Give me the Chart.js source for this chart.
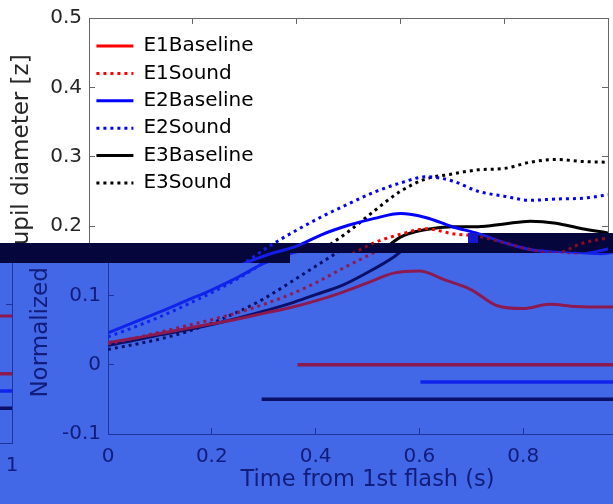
<!DOCTYPE html>
<html>
<head>
<meta charset="utf-8">
<script src="https://cdn.jsdelivr.net/npm/chart.js@4"></script>
<style>
  body { margin: 0; background: #fff; }
  #wrap { width: 613px; height: 504px; overflow: hidden; position: relative; }
  #pupil { display: block; }
</style>
</head>
<body>
<div id="wrap"><canvas id="pupil" width="640" height="504"></canvas></div>
<script>
// time after first flash (s)
let timeS = [0, 0.05, 0.1, 0.15, 0.2, 0.25, 0.3, 0.35, 0.4, 0.45, 0.5,
             0.55, 0.6, 0.65, 0.7, 0.75, 0.8, 0.85, 0.9, 0.95, 1];

// normalized pupil diameter [z] per condition
let e1Baseline = [0.032, 0.038, 0.045, 0.052, 0.059, 0.066, 0.074, 0.082, 0.092, 0.104, 0.118,
                  0.132, 0.135, 0.122, 0.108, 0.085, 0.081, 0.087, 0.084, 0.083, 0.083];
let e1Sound    = [0.030, 0.038, 0.047, 0.056, 0.065, 0.075, 0.087, 0.101, 0.118, 0.138, 0.157,
                  0.176, 0.188, 0.196, 0.189, 0.185, 0.176, 0.166, 0.161, 0.175, 0.183];
let e2Baseline = [0.046, 0.061, 0.076, 0.092, 0.108, 0.126, 0.146, 0.160, 0.171, 0.188, 0.201,
                  0.211, 0.218, 0.212, 0.199, 0.189, 0.176, 0.166, 0.162, 0.160, 0.167];
let e2Sound    = [0.040, 0.054, 0.069, 0.086, 0.104, 0.124, 0.147, 0.172, 0.194, 0.214, 0.232,
                  0.249, 0.262, 0.271, 0.265, 0.250, 0.243, 0.237, 0.239, 0.240, 0.245];
let e3Baseline = [0.028, 0.035, 0.043, 0.050, 0.058, 0.067, 0.077, 0.088, 0.101, 0.114, 0.133,
                  0.155, 0.184, 0.195, 0.199, 0.199, 0.203, 0.207, 0.204, 0.196, 0.190];
let e3Sound    = [0.022, 0.029, 0.037, 0.047, 0.060, 0.076, 0.095, 0.118, 0.142, 0.166, 0.192,
                  0.222, 0.250, 0.268, 0.275, 0.281, 0.283, 0.292, 0.296, 0.293, 0.292];

let seriesNames = ['E1Baseline', 'E1Sound', 'E2Baseline', 'E2Sound', 'E3Baseline', 'E3Sound'];
let seriesValues = [e1Baseline, e1Sound, e2Baseline, e2Sound, e3Baseline, e3Sound];

// significance bars (E1, E2, E3): onset time and the level they sit at
let sigStart = [0.365, 0.602, 0.296];
let sigLevel = [0, -0.025, -0.05];

let yRange = [-0.1, 0.5];
let xRange = [0, 1];

const lineColors = ['#ff0000', '#ff0000', '#0000ff', '#0000ff', '#000000', '#000000'];
const barColors = ['#ff0000', '#0000ff', '#000000'];
const font = 'DejaVu Sans';
const textColor = '#262626';
const axisColor = '#666';

const fmt = (v) => String(Math.round(v * 10) / 10);

let datasets = seriesValues.map((vals, i) => ({
  label: seriesNames[i],
  data: timeS.map((t, k) => ({ x: t, y: vals[k] })),
  borderColor: lineColors[i],
  backgroundColor: lineColors[i],
  borderWidth: 3,
  borderDash: i % 2 ? [3, 4] : [],
  pointRadius: 0,
  cubicInterpolationMode: 'monotone',
}));

sigStart.forEach((t0, i) => {
  datasets.push({
    label: 'sig' + (i + 1),
    data: [{ x: t0, y: sigLevel[i] }, { x: xRange[1], y: sigLevel[i] }],
    borderColor: barColors[i],
    borderWidth: 3.5,
    pointRadius: 0,
  });
});

// colour maps for the scrambled lower part of the figure
const tintLower = { base: [10, 15, 105], r: [130, 10, -25], g: [-79, 59, 22], b: [5, 20, 130] };
const tintBand = { base: [4, 6, 60], r: [136, 4, -30], g: [-152, -28, -140], b: [16, 24, 170] };

const regionAt = (x, y) => {
  if (x >= 468 && x < 478 && y >= 233 && y < 243) return 'block';
  let top = x >= 478 ? 233 : 243;
  let bottom = x < 290 ? 263 : 253;
  if (y < top) return 'upper';
  if (y < bottom) return 'band';
  return 'lower';
};

const scramble = {
  id: 'scramble',
  afterDraw(chart) {
    let ctx = chart.ctx;
    let w = chart.canvas.width, h = chart.canvas.height;
    let src = ctx.getImageData(0, 0, w, h).data;
    let out = ctx.createImageData(w, h);
    let d = out.data;
    let px = (sx, sy) => {
      if (sx < 0 || sy < 0 || sx >= w || sy >= h) return [255, 255, 255];
      let i = (sy * w + sx) * 4;
      let a = src[i + 3] / 255;
      return [src[i] * a + 255 * (1 - a), src[i + 1] * a + 255 * (1 - a), src[i + 2] * a + 255 * (1 - a)];
    };
    let tint = (t, c) => t.base.map((b0, k) =>
      Math.max(0, Math.min(255, b0 + (c[0] * t.r[k] + c[1] * t.g[k] + c[2] * t.b[k]) / 255)));
    for (let y = 0; y < h; y++) {
      for (let x = 0; x < w; x++) {
        let reg = regionAt(x, y);
        let c;
        if (reg === 'upper') c = px(x, y);
        else if (reg === 'band') c = tint(tintBand, px(x, y));
        else if (reg === 'block') c = [20, 25, 205];
        else c = tint(tintLower, x >= 19 ? px(x - 19, y) : px(x + 596, y - 9));
        let i = (y * w + x) * 4;
        d[i] = c[0]; d[i + 1] = c[1]; d[i + 2] = c[2]; d[i + 3] = 255;
      }
    }
    ctx.putImageData(out, 0, 0);
  },
};

const gridInward = { drawOnChartArea: false, tickLength: -6, color: axisColor };

// legend samples keep the dataset's dash pattern
const legendLabels = (chart) =>
  Chart.defaults.plugins.legend.labels.generateLabels(chart).map((item) => {
    let ds = chart.data.datasets[item.datasetIndex];
    item.lineDash = ds.borderDash || [];
    item.lineWidth = ds.borderWidth;
    item.strokeStyle = ds.borderColor;
    return item;
  });

new Chart(document.getElementById('pupil'), {
  type: 'line',
  data: { datasets: datasets },
  options: {
    responsive: false,
    animation: false,
    devicePixelRatio: 1,
    events: [],
    layout: { padding: 0 },
    plugins: {
      tooltip: { enabled: false },
      legend: {
        position: 'chartArea',
        align: 'start',
        title: { display: true, text: ' ', font: { size: 1 }, padding: { top: 0, bottom: 27.4 } },
        labels: {
          usePointStyle: true,
          pointStyle: 'line',
          pointStyleWidth: 37,
          padding: 7.4,
          color: '#000',
          font: { family: font, size: 20 },
          generateLabels: legendLabels,
          filter: (item) => item.datasetIndex < seriesNames.length,
        },
      },
    },
    scales: {
      x: {
        type: 'linear', position: 'bottom', min: xRange[0], max: xRange[1],
        ticks: { stepSize: 0.2, padding: 17, color: textColor, font: { family: font, size: 20 }, callback: fmt },
        grid: gridInward,
        border: { color: axisColor },
        title: { display: true, text: 'Time from 1st flash (s)', color: textColor,
                 font: { family: font, size: 22.5 }, padding: { top: 0, bottom: 10.5 } },
        afterFit: (s) => { s.height = 70; },
      },
      xTop: {
        type: 'linear', position: 'top', min: xRange[0], max: xRange[1],
        ticks: { stepSize: 0.2, display: false },
        grid: gridInward,
        border: { color: axisColor },
        afterFit: (s) => { s.height = 18; },
      },
      y: {
        type: 'linear', position: 'left', min: yRange[0], max: yRange[1],
        ticks: { stepSize: 0.1, padding: 13, color: textColor, font: { family: font, size: 20 }, callback: fmt },
        grid: gridInward,
        border: { color: axisColor },
        title: { display: true, text: 'Normalized pupil diameter [z]', color: textColor,
                 font: { family: font, size: 23 }, padding: { top: 8.2, bottom: 0 } },
        afterFit: (s) => { s.width = 89; s.paddingTop = 0; s.paddingBottom = 0; },
      },
      yRight: {
        type: 'linear', position: 'right', min: yRange[0], max: yRange[1],
        ticks: { stepSize: 0.1, display: false },
        grid: gridInward,
        border: { color: axisColor },
        afterFit: (s) => { s.width = 32; s.paddingTop = 0; s.paddingBottom = 0; },
      },
    },
  },
  plugins: [scramble],
});
</script>
</body>
</html>
